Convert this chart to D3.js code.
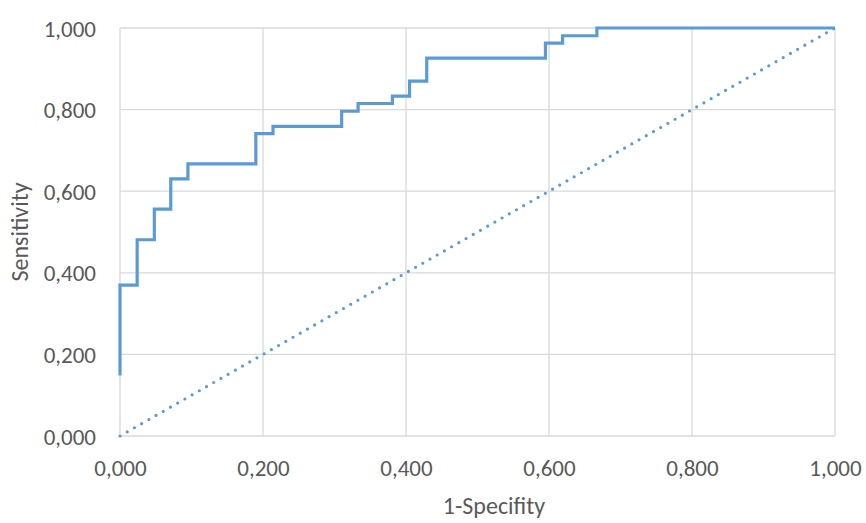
<!DOCTYPE html>
<html>
<head>
<meta charset="utf-8">
<script src="https://cdn.jsdelivr.net/npm/d3@7"></script>
<style>
  html, body { margin: 0; padding: 0; background: #fff; }
  svg text { font-family: Carlito, Calibri, Lato, "Open Sans", sans-serif; fill: #595959; }
</style>
</head>
<body>
<svg id="chart" width="866" height="523"></svg>
<script>
// ROC curve points (1 - specificity, sensitivity)
const fpr = [0, 0, 0.024, 0.024, 0.048, 0.048, 0.071, 0.071, 0.095, 0.095, 0.190, 0.190, 0.214, 0.214,
             0.310, 0.310, 0.333, 0.333, 0.381, 0.381, 0.405, 0.405, 0.429, 0.429, 0.595, 0.595,
             0.619, 0.619, 0.667, 0.667, 1.000];
const tpr = [0.148, 0.370, 0.370, 0.481, 0.481, 0.556, 0.556, 0.630, 0.630, 0.667, 0.667, 0.741, 0.741, 0.759,
             0.759, 0.796, 0.796, 0.815, 0.815, 0.833, 0.833, 0.870, 0.870, 0.926, 0.926, 0.963,
             0.963, 0.981, 0.981, 1.000, 1.000];
// Reference diagonal
const diagX = [0, 1];
const diagY = [0, 1];
const xTicks = [0, 0.2, 0.4, 0.6, 0.8, 1.0];
const yTicks = [0, 0.2, 0.4, 0.6, 0.8, 1.0];
const xTitle = "1-Specifity";
const yTitle = "Sensitivity";

const svg = d3.select("#chart");
const x = d3.scaleLinear().domain([0, 1]).range([120, 835]);
const y = d3.scaleLinear().domain([0, 1]).range([436, 28]);
const fmt = v => d3.format(".3f")(v).replace(".", ",");

// gridlines
svg.append("g").selectAll("line").data(xTicks).join("line")
  .attr("x1", d => x(d)).attr("x2", d => x(d))
  .attr("y1", y(0)).attr("y2", y(1))
  .attr("stroke", "#D9D9D9").attr("stroke-width", 1.3);
svg.append("g").selectAll("line").data(yTicks).join("line")
  .attr("x1", x(0)).attr("x2", x(1))
  .attr("y1", d => y(d)).attr("y2", d => y(d))
  .attr("stroke", "#D9D9D9").attr("stroke-width", 1.3);

// axes (labels only)
const xAxis = d3.axisBottom(x).tickValues(xTicks).tickFormat(fmt).tickSize(0).tickPadding(0);
const gx = svg.append("g").attr("transform", `translate(0,${y(0)})`).call(xAxis);
gx.select(".domain").remove();
gx.selectAll("text").attr("dy", null).attr("y", 40).style("font-size", "23px").attr("fill", "#595959");

const yAxis = d3.axisLeft(y).tickValues(yTicks).tickFormat(fmt).tickSize(0).tickPadding(0);
const gy = svg.append("g").attr("transform", `translate(${x(0)},0)`).call(yAxis);
gy.select(".domain").remove();
gy.selectAll("text").attr("x", -24).attr("dy", "0.35em").style("font-size", "23px").attr("fill", "#595959");

// diagonal dotted
const diag = diagX.map((d, i) => [d, diagY[i]]);
svg.append("path").datum(diag)
  .attr("d", d3.line().x(d => x(d[0])).y(d => y(d[1])))
  .attr("fill", "none").attr("stroke", "#5B9BD5").attr("stroke-width", 3.2)
  .attr("stroke-linecap", "round").attr("stroke-dasharray", "0,8.3");

// ROC curve
const roc = fpr.map((d, i) => [d, tpr[i]]);
svg.append("path").datum(roc)
  .attr("d", d3.line().x(d => x(d[0])).y(d => y(d[1])))
  .attr("fill", "none").attr("stroke", "#5B9BD5").attr("stroke-width", 3.2)
  .attr("stroke-linejoin", "miter");

// titles
svg.append("text").attr("x", 494).attr("y", 514).attr("text-anchor", "middle")
  .style("font-size", "24px").text(xTitle);
svg.append("text").attr("transform", "translate(28,232) rotate(-90)").attr("text-anchor", "middle")
  .style("font-size", "24px").text(yTitle);
</script>
</body>
</html>
